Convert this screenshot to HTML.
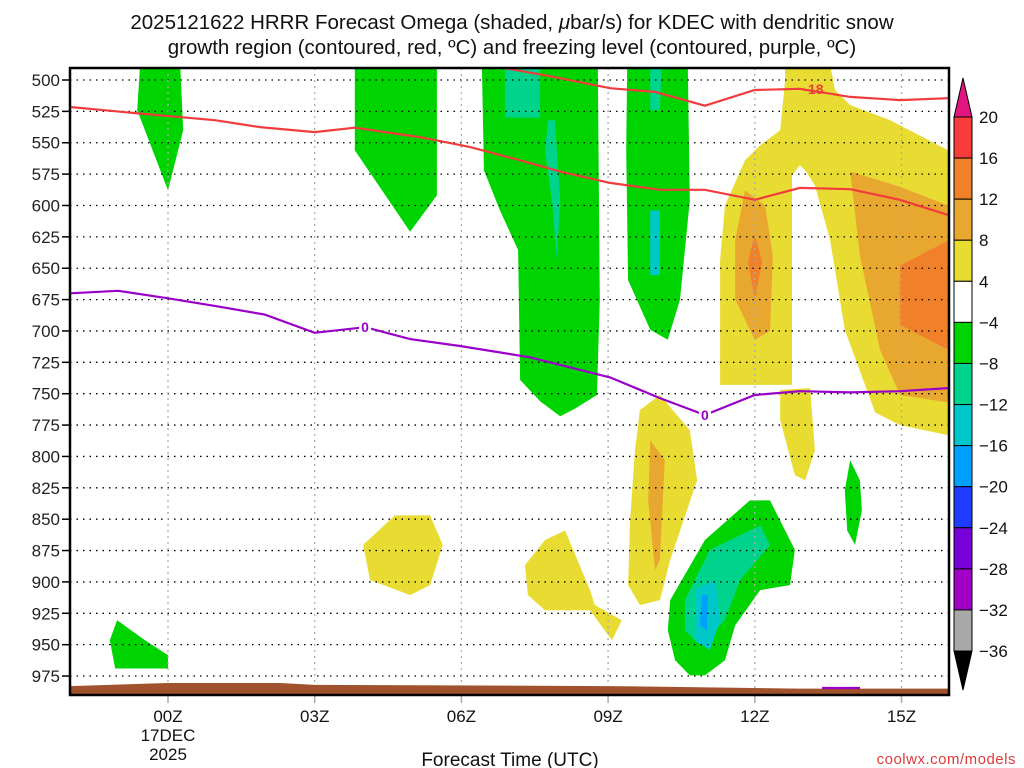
<!DOCTYPE html>
<html><head><meta charset="utf-8"><style>
html,body{margin:0;padding:0;background:#fff;}
svg{display:block;font-family:"Liberation Sans","DejaVu Sans",sans-serif;}
</style></head><body>
<svg id="chart" width="1024" height="768" viewBox="0 0 1024 768" xmlns="http://www.w3.org/2000/svg">
<text x="512" y="29" font-size="20.5" text-anchor="middle" fill="#111">2025121622 HRRR Forecast Omega (shaded, <tspan font-style="italic">μ</tspan>bar/s) for KDEC with dendritic snow</text>
<text x="512" y="54" font-size="20.5" text-anchor="middle" fill="#111">growth region (contoured, red, ºC) and freezing level (contoured, purple, ºC)</text>
<defs><clipPath id="pc"><rect x="70" y="68" width="879" height="627"/></clipPath></defs>
<g id="plot" clip-path="url(#pc)"></g>
<g id="overlay"></g>
<rect x="70" y="68" width="879" height="627" fill="none" stroke="#000" stroke-width="2.5"/>
<g id="cbar"></g>
<text x="510" y="766" font-size="19" text-anchor="middle" fill="#111">Forecast Time (UTC)</text>
<text x="1016" y="764" font-size="15" text-anchor="end" fill="#e03a3a" letter-spacing="0.5">coolwx.com/models</text>
</svg>
<script>
// ---- data ----
const pressureTicks = [500,525,550,575,600,625,650,675,700,725,750,775,800,825,850,875,900,925,950,975];
const timeTickHours = [0,3,6,9,12,15];
const timeTickLabels = ["00Z","03Z","06Z","09Z","12Z","15Z"];
const colorLevels = ["20","16","12","8","4","−4","−8","−12","−16","−20","−24","−28","−32","−36"];
const colorFills = ["#f83c3c","#f0802a","#e8a830","#e8dc32","#ffffff","#00d400","#00d48c","#00c8c8","#00a0ff","#1e3cff","#7800d8","#a000c8","#a8a8a8"];
const surfaceHours = [-2,-1.2,0,2.3,3,9,12.9,16];
const surfacePressure = [983,982,980.6,980.6,982,983,985,985];
const redLineHours = [-2,-0.78,0.96,1.88,3,3.82,5.15,6.18,7.2,8.02,9.04,10.06,10.98,12,12.92,13.95,14.97,15.95];
const redLineTemps = [521.5,526,532,537.5,541.5,538,545.5,553.5,564,573,582,587.5,587.5,595.5,586,587,595.5,607.5];
const red2Hours = [6.89,7.81,9.04,9.96,10.98,12,12.92,13.95,14.97,15.95];
const red2Press = [490.5,497,506.5,509.5,520.5,508,507,513.5,516,514.5];
const frzHours = [-2,-1.02,0,0.96,1.98,3,4.03,4.95,5.97,7.4,9.04,10.06,10.98,12,12.92,13.95,14.97,15.95];
const frzPress = [670,668,674,680,687,701.5,697,706.5,712,721,737,753.5,767,751,748,749,748,745.5];
// omega shaded regions: [color index, [[hour,hPa],...]]
const omegaRegions = [
 [5,[[-0.57,488],[0.25,488],[0.31,540],[0,588],[-0.63,524]]],
 [5,[[3.82,488],[5.5,488],[5.5,592],[4.95,621],[3.82,556]]],
 [5,[[6.42,488],[8.79,488],[8.83,675],[8.77,751],[8.32,762],[8.02,768],[7.61,756],[7.2,739],[7.16,635.5],[6.79,604],[6.46,572]]],
 [6,[[6.89,488],[7.61,488],[7.61,530],[6.89,530]]],
 [6,[[7.77,532],[7.91,532],[8.02,596],[7.95,643.5],[7.85,596],[7.71,556]]],
 [5,[[9.39,488],[10.63,488],[10.67,596],[10.47,675],[10.22,707],[9.86,699],[9.41,659.5],[9.37,556]]],
 [6,[[9.86,488],[10.1,488],[10.06,524],[9.86,524]]],
 [7,[[9.86,604],[10.06,604],[10.06,655.5],[9.86,655.5]]],
 [3,[[12.62,488],[13.54,488],[13.64,508],[13.95,520],[14.77,532],[15.95,556],[15.95,783],[14.97,775],[14.46,765],[13.84,699],[13.54,627.5],[13.23,584],[13.03,572],[12.92,568],[12.76,576],[12.76,743],[11.29,743],[11.29,643.5],[11.39,600],[11.8,564],[12.11,552],[12.52,540],[12.62,500]]],
 [2,[[13.95,573],[14.97,585],[15.95,600],[15.95,757],[14.97,751],[14.56,715],[14.15,640]]],
 [1,[[14.97,648],[15.95,628],[15.95,715],[14.97,695]]],
 [2,[[11.8,588],[12.21,600],[12.37,640],[12.31,700],[12.0,707],[11.6,675],[11.6,627.5]]],
 [1,[[12.0,623],[12.15,645],[12.0,675],[11.86,645]]],
 [3,[[9.65,763],[10.06,751],[10.67,779],[10.82,819],[10.27,882.5],[10.06,914.5],[9.65,918.5],[9.41,902.5],[9.45,851],[9.55,795]]],
 [2,[[9.86,787],[10.16,803],[10.06,882.5],[9.96,890.5],[9.82,835]]],
 [3,[[12.52,747],[13.13,745.5],[13.23,795],[13.03,819],[12.82,815],[12.52,771]]],
 [3,[[3.99,870.5],[4.64,847],[5.36,847],[5.62,870.5],[5.36,902.5],[4.95,910.5],[4.13,898.5]]],
 [3,[[7.3,886.5],[7.71,866.6],[8.12,859],[8.63,906.5],[8.73,918.5],[9.28,930.5],[9.08,946.5],[8.63,922.5],[7.71,922.5],[7.36,910.5]]],
 [5,[[10.27,914.5],[10.98,866.6],[11.9,835],[12.31,835],[12.82,874.5],[12.72,902.5],[12.11,906.5],[11.6,934.5],[11.39,962.5],[10.98,974.5],[10.67,974.5],[10.37,962.5],[10.22,938.5]]],
 [6,[[10.57,914.5],[11.08,874.5],[12.11,855],[12.31,870.5],[11.7,898.5],[11.39,930.5],[10.88,950.5],[10.57,938.5]]],
 [7,[[10.78,906.5],[11.19,898.5],[11.29,930.5],[11.08,954.5],[10.78,946.5]]],
 [8,[[10.92,910.5],[11.04,910.5],[11.02,938.5],[10.88,934.5]]],
 [5,[[13.95,803],[14.15,819],[14.19,843],[14.05,870.5],[13.89,859],[13.84,827]]],
 [5,[[-1.19,946.5],[-1.04,930.5],[-0.47,946.5],[0,958.5],[0,969],[-1.08,969]]]
];
// ---- axes ----
const X = h => 168 + h*48.9;
const Y = p => 80 + (p-500)*1.2548;
const NS = "http://www.w3.org/2000/svg";
function mk(tag, attrs, parent){ const e=document.createElementNS(NS,tag); for(const k in attrs) e.setAttribute(k,attrs[k]); parent.appendChild(e); return e; }
const plot=document.getElementById('plot'), ov=document.getElementById('overlay'), cb=document.getElementById('cbar');
omegaRegions.forEach((r,i)=>{
  const pg=mk('polygon',{points:r[1].map(q=>X(q[0]).toFixed(1)+','+Y(q[1]).toFixed(1)).join(' '),fill:colorFills[r[0]]},plot);
  
  
});
// grid
pressureTicks.forEach(p=>{
  const l=mk('line',{x1:70,x2:949,y1:Y(p),y2:Y(p),stroke:'#000','stroke-width':1.3,'stroke-dasharray':'1.5 5'},plot);
  
  
  const t=mk('line',{x1:62,x2:70,y1:Y(p),y2:Y(p),stroke:'#000','stroke-width':1.5},ov);
  
  
  const tx=mk('text',{x:60,y:Y(p)+6,'font-size':17,'text-anchor':'end',fill:'#222'},ov);
  tx.textContent=p;
  
  
});
timeTickHours.forEach((h,i)=>{
  const l=mk('line',{x1:X(h),x2:X(h),y1:68,y2:695,stroke:'#aaa','stroke-width':1.3,'stroke-dasharray':'2 4'},plot);
  
  
  const t=mk('line',{x1:X(h),x2:X(h),y1:695,y2:703,stroke:'#aaa','stroke-width':1.5},ov);
  
  
  const tx=mk('text',{x:X(h),y:722,'font-size':17,'text-anchor':'middle',fill:'#111'},ov);
  tx.textContent=timeTickLabels[i];
  
  
});
[["17DEC",741],["2025",760]].forEach(d=>{
  const tx=mk('text',{x:X(0),y:d[1],'font-size':17,'text-anchor':'middle',fill:'#111'},ov);
  tx.textContent=d[0];
  
  
});
// ground
let gp=surfaceHours.map((h,i)=>X(h)+','+Y(surfacePressure[i])).join(' ')+' '+X(16)+',700 '+X(-2)+',700';
const g=mk('polygon',{points:gp,fill:'#a0522d'},plot);


// lines
function line(hs,ps,color,name){
  const l=mk('polyline',{points:hs.map((h,i)=>X(h).toFixed(1)+','+Y(ps[i]).toFixed(1)).join(' '),fill:'none',stroke:color,'stroke-width':2.2},plot);
  
  
}
line(redLineHours,redLineTemps,'#f03c3c','dgz-contour-minus12');
line(red2Hours,red2Press,'#f03c3c','dgz-contour-minus18');
line(frzHours,frzPress,'#9a00c8','freezing-level-contour');
const sp=mk('line',{x1:822,x2:860,y1:688,y2:688,stroke:'#9a00c8','stroke-width':2.2},plot);


function lab(x,y,txt,color,name){
  const r=mk('rect',{x:x-6,y:y-8,width:12,height:15,fill:'#fff'},plot);
  
  
  const t=mk('text',{x:x,y:y+5,'font-size':14,'font-weight':'bold','text-anchor':'middle',fill:color},plot);
  t.textContent=txt;
  
  
}
lab(X(4.03),Y(697),'0','#9a00c8','freezing-label-1');
lab(X(10.98),Y(767),'0','#9a00c8','freezing-label-2');
const r18=mk('text',{x:X(13.2),y:Y(507)+5,'font-size':14,'font-weight':'bold','text-anchor':'middle',fill:'#f03c3c'},plot);
r18.textContent='-18';


// colorbar
const cbTop=117, cbStep=(651-117)/13, cbx=954, cbw=18;
const tri1=mk('polygon',{points:`${cbx},${cbTop} ${cbx+cbw},${cbTop} ${cbx+cbw/2},78`,fill:'#e0157f',stroke:'#000','stroke-width':1},cb);


colorFills.forEach((c,i)=>{
  const r=mk('rect',{x:cbx,y:cbTop+i*cbStep,width:cbw,height:cbStep,fill:c,stroke:'#000','stroke-width':1},cb);
  
  
});
const tri2=mk('polygon',{points:`${cbx},651 ${cbx+cbw},651 ${cbx+cbw/2},690`,fill:'#000',stroke:'#000','stroke-width':1},cb);


colorLevels.forEach((l,i)=>{
  const t=mk('text',{x:979,y:cbTop+i*cbStep+6,'font-size':17,fill:'#111'},cb);
  t.textContent=l;
  
  
});
</script>
</body></html>
